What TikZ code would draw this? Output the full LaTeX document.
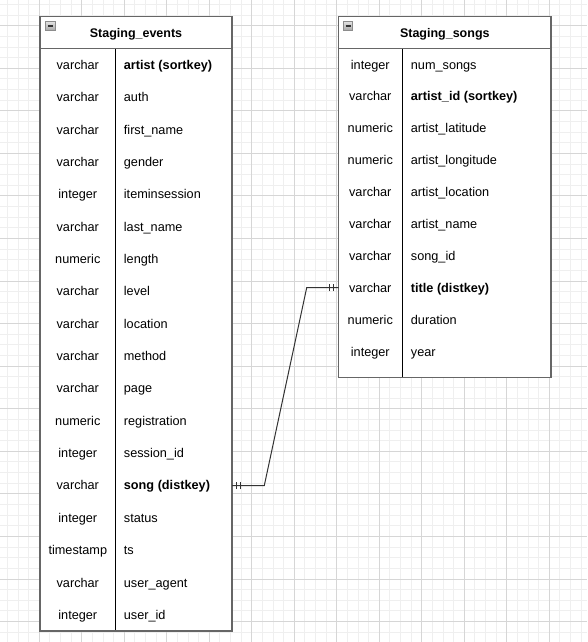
\documentclass[tikz,border=0pt]{standalone}
\usepackage{fontspec}
\setmainfont{Liberation Sans}
\definecolor{gridminor}{HTML}{EFEFEF}
\definecolor{gridmajor}{HTML}{D6D6D6}
\definecolor{tblborder}{HTML}{666666}
\definecolor{linkcol}{HTML}{333333}
\definecolor{iconfill}{HTML}{D0D0D0}
\definecolor{iconborder}{HTML}{8C8C8C}
\tikzset{
  typetxt/.style={inner sep=0pt, anchor=base, font=\fontsize{12.7}{15}\selectfont},
  nametxt/.style={inner sep=0pt, anchor=base west, font=\fontsize{12.7}{15}\selectfont},
  keytxt/.style={nametxt, font=\fontsize{12.7}{15}\selectfont\bfseries},
  headtxt/.style={inner sep=0pt, anchor=base, font=\fontsize{12.5}{15}\selectfont\bfseries},
  frame/.style={draw=tblborder, line width=1.4pt, fill=white},
  headline/.style={draw=tblborder, line width=1.2pt},
  coldiv/.style={draw=black, line width=0.9pt},
  icon/.style={draw=iconborder, line width=0.6pt, top color=iconfill!60!white, bottom color=iconfill!80!black},
  iconbar/.style={draw=black!80, line width=1.1pt},
  link/.style={draw=linkcol, line width=1pt},
  tick/.style={draw=linkcol, line width=1pt},
}
\begin{document}
\begin{tikzpicture}[x=1pt,y=-1pt]
\useasboundingbox (0,0) rectangle (587,642);
% grid
\foreach \i in {-4,...,51} {
  \pgfmathsetmacro\xx{39.3+10.625*\i}
  \draw[gridminor, line width=0.9pt] (\xx,0) -- (\xx,642);
}
\foreach \i in {-3,...,57} {
  \pgfmathsetmacro\yy{25.7+10.64*\i}
  \draw[gridminor, line width=0.9pt] (0,\yy) -- (587,\yy);
}
\foreach \i in {0,...,13} {
  \pgfmathsetmacro\xx{39.3+42.5*\i}
  \draw[gridmajor, line width=0.9pt] (\xx,0) -- (\xx,642);
}
\foreach \i in {0,...,14} {
  \pgfmathsetmacro\yy{25.7+42.56*\i}
  \draw[gridmajor, line width=0.9pt] (0,\yy) -- (587,\yy);
}

% ---------- Staging_events ----------
\path[frame] (40,16.5) rectangle (232,631);
\coordinate (evhl) at (40,48.5);
\coordinate (evhr) at (232,48.5);
\coordinate (evdt) at (115.5,48.5);
\coordinate (evdb) at (115.5,631);
\draw[coldiv] (evdt) -- (evdb);
\draw[headline] (evhl) -- (evhr);
\draw[frame, fill=none] (40,16.5) rectangle (232,631);
\path[icon] (45.7,21.5) rectangle (54.8,30.5);
\draw[iconbar] (47.8,26) -- (52.7,26);
\node[headtxt] (evtitle) at (136,37.5) {Staging\_events};
\foreach \t/\n/\k [count=\r] in {
  varchar/artist (sortkey)/1,
  varchar/auth/0,
  varchar/first\_name/0,
  varchar/gender/0,
  integer/iteminsession/0,
  varchar/last\_name/0,
  numeric/length/0,
  varchar/level/0,
  varchar/location/0,
  varchar/method/0,
  varchar/page/0,
  numeric/registration/0,
  integer/session\_id/0,
  varchar/song (distkey)/1,
  integer/status/0,
  timestamp/ts/0,
  varchar/user\_agent/0,
  integer/user\_id/0} {
  \pgfmathsetmacro\yy{48.5+32.36*(\r-0.5)+4.6}
  \node[typetxt] (evtype\r) at (77.8,\yy) {\t};
  \ifnum\k=1
    \node[keytxt] (evname\r) at (123.7,\yy) {\n};
  \else
    \node[nametxt] (evname\r) at (123.7,\yy) {\n};
  \fi
}
\coordinate (evsong) at (232,485.5);

% ---------- Staging_songs ----------
\path[frame] (338.5,16.5) rectangle (551,377.7);
\coordinate (sohl) at (338.5,48.5);
\coordinate (sohr) at (551,48.5);
\coordinate (sodt) at (402.5,48.5);
\coordinate (sodb) at (402.5,377.7);
\draw[coldiv] (sodt) -- (sodb);
\draw[headline] (sohl) -- (sohr);
\draw[frame, fill=none] (338.5,16.5) rectangle (551,377.7);
\path[icon] (343.5,21.5) rectangle (352.6,30.5);
\draw[iconbar] (345.6,26) -- (350.5,26);
\node[headtxt] (sotitle) at (444.8,37.5) {Staging\_songs};
\foreach \t/\n/\k [count=\r] in {
  integer/num\_songs/0,
  varchar/artist\_id (sortkey)/1,
  numeric/artist\_latitude/0,
  numeric/artist\_longitude/0,
  varchar/artist\_location/0,
  varchar/artist\_name/0,
  varchar/song\_id/0,
  varchar/title (distkey)/1,
  numeric/duration/0,
  integer/year/0} {
  \pgfmathsetmacro\yy{48.5+31.9*(\r-0.5)+4.6}
  \node[typetxt] (sotype\r) at (370.3,\yy) {\t};
  \ifnum\k=1
    \node[keytxt] (soname\r) at (410.7,\yy) {\n};
  \else
    \node[nametxt] (soname\r) at (410.7,\yy) {\n};
  \fi
}
\coordinate (sotitle8) at (338.5,287.7);

% ---------- connector ----------
\coordinate (bendA) at (264.3,485.5);
\coordinate (bendB) at (306.7,287.7);
\draw[link] (evsong) -- (bendA) -- (bendB) -- (sotitle8);
\coordinate (tA1) at (236.2,485.5);
\coordinate (tA2) at (240.4,485.5);
\coordinate (tB1) at (329.6,287.7);
\coordinate (tB2) at (333.8,287.7);
\foreach \c in {tA1,tA2,tB1,tB2} {
  \draw[tick] ([yshift=-3.5pt]\c) -- ([yshift=3.5pt]\c);
}
\end{tikzpicture}
\end{document}
